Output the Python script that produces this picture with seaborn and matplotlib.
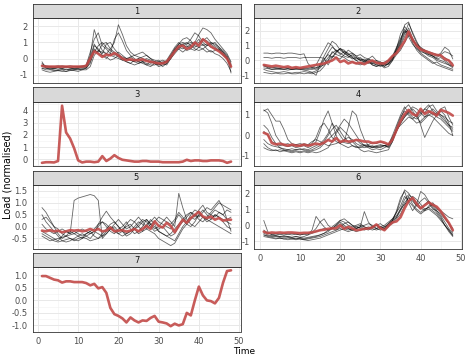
import pandas as pd
import seaborn as sns
import matplotlib.pyplot as plt

# half-hourly periods
time = list(range(1, 49))

# ---- cluster 1 ----
c1_centre = [-0.45,-0.5,-0.5,-0.5,-0.5,-0.5,-0.5,-0.5,-0.5,-0.5,-0.5,-0.45,0.0,0.45,0.3,0.1,0.25,0.2,0.34,0.2,0.0,-0.1,-0.05,-0.1,-0.1,-0.05,-0.15,-0.2,-0.25,-0.3,-0.3,-0.2,0.1,0.45,0.75,0.8,0.6,0.7,1.0,0.8,1.2,1.0,0.75,0.6,0.45,0.25,0.0,-0.5]
c1_a = [-0.3,-0.5,-0.55,-0.6,-0.55,-0.6,-0.5,-0.55,-0.6,-0.55,-0.5,-0.45,0.2,1.8,1.0,0.5,0.3,0.2,0.1,0.0,-0.1,0.0,-0.1,-0.2,0.0,0.1,0.2,0.0,-0.1,-0.2,-0.3,-0.2,0.2,0.6,0.8,0.9,0.7,0.9,1.0,1.5,1.9,1.8,1.6,1.2,0.9,0.6,0.3,-0.2]
c1_b = [-0.6,-0.7,-0.7,-0.75,-0.7,-0.7,-0.8,-0.75,-0.7,-0.7,-0.65,-0.6,-0.3,0.5,0.4,0.9,1.0,0.6,1.0,2.1,1.5,0.8,0.4,0.2,0.1,0.0,-0.1,-0.2,-0.3,-0.4,-0.3,-0.2,0.0,0.5,0.6,0.4,0.6,0.8,0.6,0.5,0.6,0.4,0.5,0.3,0.2,0.0,-0.3,-0.8]
c1_c = [-0.4,-0.45,-0.5,-0.5,-0.45,-0.5,-0.5,-0.45,-0.5,-0.5,-0.5,-0.4,0.4,1.2,1.6,0.8,0.6,0.3,0.2,0.4,0.2,0.0,-0.1,-0.2,-0.3,-0.2,-0.1,-0.3,-0.2,-0.4,-0.3,-0.1,0.3,0.7,1.0,0.7,0.5,0.6,0.9,1.2,0.8,0.9,0.7,0.6,0.5,0.2,0.0,-0.4]
c1_d = [-0.7,-0.8,-0.85,-0.8,-0.75,-0.8,-0.8,-0.7,-0.75,-0.8,-0.7,-0.7,-0.5,0.2,0.5,0.3,0.9,1.0,0.6,0.3,0.0,-0.1,0.1,0.2,0.3,0.4,0.2,0.0,-0.2,-0.1,-0.3,-0.4,0.0,0.4,0.7,0.9,1.0,0.8,0.7,0.9,1.1,1.3,1.0,0.8,0.6,0.4,0.1,-0.9]
c1_e = [-0.2,-0.6,-0.65,-0.6,-0.65,-0.6,-0.7,-0.65,-0.6,-0.6,-0.55,-0.5,-0.1,0.8,0.6,0.2,0.0,0.3,1.2,1.6,1.1,0.5,0.2,0.0,-0.2,-0.3,-0.4,-0.2,-0.3,-0.5,-0.4,-0.3,0.1,0.5,0.9,1.2,1.3,1.1,0.8,0.7,0.6,0.8,1.0,0.9,0.7,0.5,0.2,-0.3]
c1_f = [-0.5,-0.55,-0.6,-0.6,-0.55,-0.6,-0.55,-0.6,-0.65,-0.6,-0.6,-0.55,0.0,0.6,0.3,0.2,0.1,-0.1,0.0,0.2,0.0,-0.2,-0.3,-0.1,0.0,-0.2,-0.3,-0.4,-0.4,-0.3,-0.5,-0.3,0.0,0.3,0.6,0.8,0.9,1.2,1.6,1.4,1.0,0.8,0.9,1.0,0.7,0.4,0.1,-0.6]
c1_g = [-0.6,-0.6,-0.65,-0.7,-0.75,-0.7,-0.65,-0.7,-0.7,-0.65,-0.7,-0.6,-0.2,0.4,0.8,1.0,0.7,0.5,0.3,0.1,-0.1,-0.2,-0.3,-0.4,-0.3,-0.2,-0.4,-0.5,-0.3,-0.2,-0.1,-0.2,0.2,0.5,0.7,0.6,0.8,0.6,0.5,0.7,0.9,0.6,0.4,0.5,0.6,0.3,0.0,-0.5]
c1_h = [-0.45,-0.5,-0.5,-0.55,-0.5,-0.45,-0.5,-0.55,-0.5,-0.5,-0.45,-0.5,0.1,0.9,0.5,0.4,0.3,0.6,0.4,0.2,0.1,0.0,0.1,-0.1,-0.2,-0.1,0.0,-0.1,-0.2,-0.3,-0.2,-0.2,0.1,0.6,0.9,1.0,0.9,1.0,0.9,1.0,1.2,1.1,0.9,0.7,0.5,0.3,0.0,-0.4]

# ---- cluster 2 ----
c2_centre = [-0.3,-0.35,-0.4,-0.35,-0.4,-0.45,-0.4,-0.5,-0.45,-0.5,-0.45,-0.4,-0.35,-0.3,-0.25,-0.2,-0.1,0.0,0.2,-0.1,0.0,-0.2,-0.1,-0.2,-0.15,-0.25,-0.1,0.0,-0.15,-0.2,-0.2,0.0,0.3,0.5,0.9,1.3,1.95,1.4,1.0,0.75,0.65,0.55,0.45,0.37,0.35,0.1,0.0,-0.33]
c2_a = [0.5,0.5,0.45,0.5,0.5,0.45,0.5,0.5,0.45,0.4,0.45,-0.2,-0.5,-0.3,0.2,0.7,1.2,1.0,0.6,0.8,0.5,0.3,0.1,0.2,0.0,-0.1,0.1,0.0,-0.2,-0.1,-0.3,0.0,0.2,0.6,1.2,2.4,2.6,1.8,1.2,0.8,0.6,0.5,0.3,0.2,0.4,0.6,0.5,0.3]
c2_b = [-0.3,-0.5,-0.6,-0.6,-0.55,-0.6,-0.65,-0.6,-0.6,-0.6,-0.65,-0.7,-0.8,-1.0,-0.3,0.3,0.8,1.3,1.1,0.7,0.5,0.3,0.2,0.0,-0.2,-0.1,0.0,-0.3,-0.4,-0.3,-0.5,-0.4,0.0,0.8,1.8,2.3,1.9,1.2,0.7,0.4,0.2,0.0,-0.2,-0.1,-0.3,-0.4,-0.5,-0.6]
c2_c = [0.2,0.2,0.15,0.2,0.2,0.15,0.2,0.2,0.2,0.15,0.2,0.2,0.2,0.2,0.2,0.15,-0.3,0.2,0.5,0.8,0.6,0.4,0.5,0.3,0.4,0.2,0.1,0.3,0.0,-0.1,-0.2,-0.1,0.3,0.9,1.5,2.0,1.6,1.1,0.8,0.6,0.5,0.4,0.3,0.1,0.2,0.0,-0.2,-0.4]
c2_d = [-0.6,-0.7,-0.75,-0.8,-0.8,-0.75,-0.8,-0.85,-0.8,-0.8,-0.75,-0.8,-0.8,-0.7,-0.5,-0.2,0.2,0.5,0.7,0.4,0.6,0.5,0.2,0.0,0.1,-0.1,-0.2,-0.1,-0.3,-0.2,-0.4,-0.2,0.1,0.5,1.0,1.6,2.2,1.5,0.9,0.5,0.3,0.1,-0.1,-0.3,-0.4,-0.5,-0.6,-0.7]
c2_e = [-0.3,-0.4,-0.45,-0.5,-0.5,-0.45,-0.5,-0.5,-0.5,-0.55,-0.5,-0.5,-0.45,-0.5,-0.4,-0.3,0.0,0.3,0.2,0.1,0.4,0.7,0.5,0.3,0.1,0.0,-0.1,-0.2,-0.1,-0.3,-0.2,-0.3,0.0,0.4,0.7,1.2,1.7,1.5,1.0,0.7,0.5,0.3,0.2,0.0,-0.1,-0.2,-0.3,-0.5]
c2_f = [-0.8,-0.85,-0.9,-0.85,-0.9,-0.9,-0.85,-0.9,-0.9,-0.85,-0.9,-0.85,-0.9,-0.8,-0.7,-0.4,0.0,0.6,0.4,0.3,0.2,0.0,-0.1,-0.2,-0.3,-0.2,-0.1,-0.3,-0.4,-0.3,-0.4,-0.2,0.1,0.6,1.1,1.8,2.5,1.9,1.3,0.8,0.6,0.4,0.3,0.1,0.0,-0.1,-0.3,-0.4]
c2_g = [-0.5,-0.55,-0.6,-0.55,-0.6,-0.6,-0.55,-0.6,-0.55,-0.6,-0.6,-0.55,-0.6,-0.5,-0.3,0.1,0.4,0.2,0.6,0.8,0.7,0.4,0.3,0.1,0.2,0.0,0.1,-0.1,0.0,-0.2,-0.1,0.0,0.3,0.7,1.3,1.9,2.0,1.3,1.1,0.9,0.7,0.6,0.5,0.4,0.3,0.2,0.0,-0.2]
c2_h = [-0.4,-0.45,-0.5,-0.5,-0.55,-0.5,-0.55,-0.6,-0.55,-0.5,-0.55,-0.6,-0.55,-0.6,-0.4,0.0,0.5,0.9,0.7,0.5,0.3,0.2,0.4,0.2,0.0,0.1,-0.1,-0.2,-0.3,-0.4,-0.3,-0.2,0.2,0.8,1.4,2.1,1.8,1.4,1.0,0.8,0.7,0.5,0.4,0.3,0.5,0.9,0.7,0.1]

# ---- cluster 3 (single member) ----
c3_centre = [-0.3,-0.25,-0.25,-0.27,-0.15,4.4,2.2,1.7,0.9,-0.1,-0.27,-0.2,-0.2,-0.25,-0.2,0.25,-0.15,0.05,0.33,0.1,-0.05,-0.1,-0.15,-0.2,-0.2,-0.15,-0.15,-0.2,-0.2,-0.2,-0.25,-0.25,-0.25,-0.25,-0.25,-0.2,-0.05,-0.15,-0.1,-0.1,-0.15,-0.15,-0.1,-0.1,-0.1,-0.15,-0.3,-0.2]

# ---- cluster 4 ----
c4_centre = [0.13,0.05,-0.37,-0.44,-0.4,-0.45,-0.5,-0.45,-0.5,-0.5,-0.45,-0.5,-0.45,-0.4,-0.44,-0.35,-0.22,-0.3,-0.13,-0.32,-0.25,-0.3,-0.28,-0.22,-0.25,-0.3,-0.3,-0.37,-0.35,-0.3,-0.35,-0.44,-0.2,0.27,0.7,1.04,1.25,1.04,0.97,1.3,1.05,1.18,1.1,0.97,1.25,1.18,1.1,0.97]
c4_a = [1.25,1.1,0.6,0.0,-0.3,-0.5,-0.55,-0.5,-0.6,-0.55,-0.5,-0.6,-0.5,-0.3,0.2,0.8,1.2,0.6,0.0,-0.4,-0.5,-0.6,-0.5,-0.55,-0.6,-0.5,-0.55,-0.5,-0.6,-0.55,-0.5,-0.6,-0.3,0.4,0.9,1.2,1.0,0.8,0.6,0.7,0.9,1.1,1.3,1.1,0.9,0.7,0.5,0.3]
c4_b = [0.5,0.3,-0.1,-0.4,-0.6,-0.65,-0.7,-0.65,-0.7,-0.7,-0.65,-0.7,-0.6,-0.5,-0.4,-0.2,0.1,0.6,0.3,0.0,-0.3,0.4,1.2,1.0,0.3,-0.2,-0.5,-0.6,-0.55,-0.6,-0.5,-0.55,-0.2,0.2,0.6,0.9,1.1,1.3,1.1,0.5,-0.1,0.3,0.7,1.0,1.2,1.0,0.6,0.0]
c4_c = [-0.2,-0.4,-0.5,-0.55,-0.6,-0.7,-0.75,-0.8,-0.75,-0.8,-0.75,-0.8,-0.75,-0.7,-0.6,-0.4,-0.2,0.0,0.2,0.5,0.8,0.6,0.3,0.0,-0.3,-0.5,-0.6,-0.7,-0.65,-0.7,-0.6,-0.5,-0.1,0.3,0.5,0.7,0.9,0.8,1.0,1.2,1.1,1.4,1.5,1.2,1.0,0.8,0.5,0.4]
c4_d = [1.2,1.3,1.0,0.7,0.7,0.3,-0.2,-0.4,-0.45,-0.5,-0.4,-0.45,-0.3,-0.2,-0.3,-0.4,-0.5,-0.45,-0.4,-0.3,-0.35,-0.4,-0.3,-0.2,-0.4,-0.5,-0.45,-0.35,-0.4,-0.3,-0.4,-0.45,0.0,0.5,1.0,1.4,1.1,0.9,0.8,1.0,1.3,1.5,1.2,1.0,1.3,1.4,0.9,0.5]
c4_e = [-0.4,-0.6,-0.7,-0.75,-0.7,-0.75,-0.8,-0.85,-0.8,-0.85,-0.8,-0.85,-0.8,-0.85,-0.8,-0.7,-0.6,-0.3,0.1,0.4,0.2,0.0,-0.3,-0.5,-0.7,-0.8,-0.75,-0.8,-0.85,-0.8,-0.75,-0.7,-0.3,0.2,0.6,0.9,1.2,1.4,1.3,1.1,0.9,1.0,0.9,0.7,0.5,0.3,0.1,0.0]
c4_f = [0.2,0.0,-0.3,-0.4,-0.5,-0.45,-0.4,-0.5,-0.45,-0.4,-0.45,-0.5,-0.4,-0.1,0.4,0.6,0.3,-0.1,-0.3,-0.4,-0.2,-0.1,-0.2,-0.4,-0.5,-0.45,-0.5,-0.55,-0.5,-0.45,-0.5,-0.45,-0.1,0.3,0.7,1.0,1.2,1.1,0.9,1.1,1.3,1.2,1.0,1.1,1.0,0.9,0.7,0.6]
c4_g = [-0.6,-0.7,-0.75,-0.7,-0.8,-0.75,-0.7,-0.75,-0.7,-0.65,-0.7,-0.75,-0.7,-0.6,-0.5,-0.3,0.0,0.3,0.5,0.2,-0.1,-0.3,-0.5,-0.6,-0.55,-0.6,-0.55,-0.6,-0.55,-0.5,-0.5,-0.45,-0.2,0.3,0.8,1.3,1.5,1.2,0.9,0.6,0.8,1.0,1.1,0.9,0.8,0.6,0.4,0.2]

# ---- cluster 5 ----
c5_centre = [-0.17,-0.2,-0.15,-0.2,-0.17,-0.24,-0.2,-0.15,-0.17,-0.15,-0.2,-0.17,-0.1,-0.17,-0.1,-0.2,-0.17,-0.04,-0.2,-0.17,-0.15,-0.21,-0.17,-0.1,-0.2,-0.1,0.03,-0.1,0.22,0.03,-0.04,0.16,0.03,-0.24,0.03,0.29,0.16,0.36,0.49,0.62,0.42,0.36,0.42,0.29,0.36,0.25,0.29,0.29]
c5_a = [0.8,0.6,0.3,0.0,-0.3,-0.5,-0.4,-0.2,-0.3,-0.4,-0.5,-0.3,-0.2,-0.1,0.1,0.2,0.0,-0.2,-0.3,-0.1,0.0,0.2,-0.1,-0.3,-0.2,0.0,0.3,0.1,-0.1,0.0,0.2,0.4,0.2,0.0,1.4,0.8,0.3,0.1,0.0,0.2,0.4,0.3,0.5,0.7,0.6,0.5,0.7,0.6]
c5_b = [-0.2,-0.3,-0.4,-0.5,-0.6,-0.4,-0.2,-0.3,1.1,1.2,1.25,1.3,1.35,1.3,1.1,-0.5,-0.3,-0.1,0.0,-0.2,-0.1,0.0,0.1,-0.1,-0.3,-0.2,-0.1,0.1,0.0,-0.2,-0.3,-0.4,-0.3,-0.1,0.1,0.3,0.5,0.6,0.4,0.7,0.9,0.6,0.5,0.4,0.6,0.5,0.3,0.4]
c5_c = [0.5,0.2,0.0,-0.2,-0.4,-0.6,-0.65,-0.6,-0.5,-0.4,-0.3,-0.4,-0.5,-0.3,0.1,0.4,0.65,0.4,0.2,0.0,-0.2,-0.3,-0.2,0.0,0.2,0.1,-0.1,-0.2,-0.3,-0.5,-0.6,-0.7,-0.8,-0.7,-0.4,-0.1,0.1,0.3,0.5,0.4,0.6,0.8,0.7,0.9,1.1,0.8,0.3,-0.2]
c5_d = [-0.3,-0.4,-0.5,-0.6,-0.65,-0.6,-0.55,-0.5,-0.6,-0.5,-0.45,-0.5,-0.6,-0.55,-0.5,-0.4,-0.2,0.0,-0.1,-0.3,-0.2,0.1,0.3,0.2,0.0,-0.2,0.1,0.2,0.4,0.2,0.1,0.0,-0.1,0.2,0.5,0.3,0.1,0.0,0.2,0.5,0.4,0.3,0.2,0.1,0.0,-0.1,-0.2,-0.3]
c5_e = [0.1,-0.1,-0.2,-0.3,-0.2,-0.1,-0.2,-0.3,-0.2,-0.3,-0.4,-0.3,-0.2,-0.4,-0.5,-0.3,-0.1,0.1,0.2,0.0,-0.2,-0.4,-0.3,-0.1,0.1,0.3,0.2,0.0,-0.2,-0.1,0.0,-0.2,-0.4,-0.3,0.0,0.2,0.4,0.6,0.5,0.3,0.2,0.4,0.6,0.8,1.0,0.9,0.8,0.7]
c5_f = [-0.4,-0.5,-0.6,-0.55,-0.5,-0.45,-0.4,-0.5,-0.55,-0.6,-0.5,-0.4,-0.3,-0.2,-0.3,-0.4,-0.3,-0.1,0.1,0.3,0.1,-0.1,0.0,0.2,0.4,0.2,0.0,0.3,0.1,-0.2,-0.3,-0.4,-0.5,-0.6,-0.3,0.0,0.2,0.4,0.3,0.5,0.7,0.5,0.3,0.5,0.4,0.2,0.0,-0.1]
c5_g = [0.3,0.4,0.2,0.0,-0.1,-0.3,-0.4,-0.35,-0.3,-0.2,-0.1,-0.2,-0.3,-0.2,0.0,0.2,0.1,-0.1,-0.2,-0.3,-0.4,-0.3,-0.2,-0.1,0.0,0.2,0.3,0.1,0.2,0.4,0.3,0.2,0.1,0.3,0.6,0.4,0.2,0.5,0.7,0.6,0.4,0.2,0.3,0.5,0.4,0.3,0.2,0.1]

# ---- cluster 6 ----
c6_centre = [-0.4,-0.49,-0.45,-0.47,-0.45,-0.47,-0.45,-0.45,-0.47,-0.49,-0.47,-0.47,-0.44,-0.38,-0.31,-0.28,-0.22,-0.2,-0.18,0.0,-0.22,-0.1,-0.2,-0.31,-0.28,-0.22,-0.2,-0.13,0.05,-0.18,-0.31,-0.04,0.18,0.24,0.5,1.05,1.5,1.7,1.33,1.05,1.24,1.42,1.27,1.15,0.87,0.5,0.15,-0.31]
c6_a = [0.3,-0.4,-0.6,-0.65,-0.7,-0.65,-0.7,-0.75,-0.7,-0.75,-0.7,-0.6,-0.3,0.55,0.2,-0.1,-0.3,-0.2,-0.1,0.1,-0.1,-0.2,-0.3,-0.2,-0.1,0.85,0.2,-0.1,0.0,-0.2,-0.3,-0.1,0.3,0.8,1.5,2.2,2.0,1.6,1.2,1.0,1.3,1.5,1.2,0.9,0.6,0.2,-0.2,-0.5]
c6_b = [-0.5,-0.6,-0.65,-0.7,-0.75,-0.7,-0.75,-0.8,-0.85,-0.8,-0.85,-0.8,-0.75,-0.7,-0.6,-0.5,-0.3,-0.1,0.1,0.3,0.2,0.0,-0.1,0.0,0.1,-0.1,-0.2,-0.1,0.0,0.1,-0.1,0.0,0.2,0.5,1.0,1.6,1.9,1.7,1.4,1.1,0.9,1.2,1.4,1.1,0.8,0.5,0.1,-0.4]
c6_c = [-0.6,-0.7,-0.75,-0.8,-0.8,-0.85,-0.8,-0.85,-0.9,-0.85,-0.9,-0.85,-0.8,-0.75,-0.7,-0.6,-0.5,-0.4,-0.3,-0.2,-0.3,-0.4,-0.3,-0.2,-0.1,-0.2,-0.3,-0.1,0.0,-0.1,-0.2,0.0,0.3,0.9,1.7,2.1,1.4,0.9,1.3,2.1,1.9,1.5,1.1,0.8,0.5,0.0,-0.4,-0.7]
c6_d = [-0.3,-0.5,-0.55,-0.6,-0.55,-0.6,-0.55,-0.5,-0.55,-0.6,-0.55,-0.5,-0.45,-0.2,0.2,0.4,0.0,-0.2,-0.3,-0.1,0.1,0.2,0.0,-0.2,-0.1,0.0,0.1,0.0,-0.2,-0.1,0.0,0.2,0.4,0.6,1.0,1.3,1.5,1.8,1.6,1.3,1.0,1.1,1.3,1.0,0.9,0.7,0.5,0.4]
c6_e = [-0.6,-0.65,-0.7,-0.65,-0.7,-0.75,-0.7,-0.75,-0.7,-0.75,-0.8,-0.75,-0.7,-0.65,-0.6,-0.5,-0.4,-0.2,0.0,0.2,0.0,-0.2,-0.3,-0.4,-0.3,-0.2,-0.1,-0.2,-0.3,-0.2,-0.1,0.1,0.4,0.8,1.2,1.8,1.5,1.2,0.9,0.7,0.9,1.0,0.8,0.6,0.3,0.0,-0.3,-0.6]
c6_f = [-0.4,-0.5,-0.55,-0.5,-0.55,-0.5,-0.55,-0.6,-0.55,-0.6,-0.55,-0.6,-0.5,-0.4,-0.3,-0.2,-0.3,-0.2,0.0,0.3,0.4,0.2,0.0,-0.1,0.0,-0.1,-0.2,-0.3,-0.2,-0.1,-0.2,0.1,0.3,0.5,0.9,1.4,1.7,1.5,1.2,1.5,1.7,1.4,1.0,0.9,0.7,0.4,0.1,-0.2]
c6_g = [-0.7,-0.75,-0.8,-0.85,-0.8,-0.85,-0.9,-0.85,-0.8,-0.85,-0.9,-0.95,-0.9,-0.85,-0.8,-0.7,-0.6,-0.5,-0.4,-0.3,-0.2,-0.3,-0.2,-0.1,-0.2,-0.3,-0.2,-0.1,-0.2,-0.3,-0.2,0.0,0.1,0.4,0.7,1.2,1.8,1.3,1.0,0.8,1.0,1.1,0.9,0.7,0.4,0.0,-0.3,-0.65]

# ---- cluster 7 (single member) ----
c7_centre = [0.97,0.97,0.9,0.83,0.8,0.71,0.76,0.76,0.73,0.73,0.73,0.69,0.6,0.66,0.48,0.53,0.3,-0.3,-0.55,-0.62,-0.72,-0.88,-0.68,-0.8,-0.88,-0.8,-0.82,-0.7,-0.62,-0.85,-0.88,-0.92,-1.03,-0.93,-1.0,-0.95,-0.5,-0.6,0.0,0.55,0.2,0.0,-0.03,-0.12,0.1,0.7,1.17,1.2]

members = {
    1: [c1_a, c1_b, c1_c, c1_d, c1_e, c1_f, c1_g, c1_h],
    2: [c2_a, c2_b, c2_c, c2_d, c2_e, c2_f, c2_g, c2_h],
    3: [],
    4: [c4_a, c4_b, c4_c, c4_d, c4_e, c4_f, c4_g],
    5: [c5_a, c5_b, c5_c, c5_d, c5_e, c5_f, c5_g],
    6: [c6_a, c6_b, c6_c, c6_d, c6_e, c6_f, c6_g],
    7: [],
}
centres = {1: c1_centre, 2: c2_centre, 3: c3_centre, 4: c4_centre,
           5: c5_centre, 6: c6_centre, 7: c7_centre}

ylims = {1: (-1.1, 2.32), 2: (-1.33, 2.85), 3: (-0.57, 4.73), 4: (-1.04, 1.65),
         5: (-0.96, 1.55), 6: (-1.13, 2.33), 7: (-1.15, 1.32)}
yticks = {1: [-1, 0, 1, 2], 2: [-1, 0, 1, 2], 3: [0, 1, 2, 3, 4], 4: [-1, 0, 1],
          5: [-0.5, 0.0, 0.5, 1.0, 1.5], 6: [-1, 0, 1, 2], 7: [-1.0, -0.5, 0.0, 0.5, 1.0]}

# long tables
rows = []
for k, lines in members.items():
    for i, vals in enumerate(lines):
        assert len(vals) == 48, (k, i, len(vals))
        for t, v in zip(time, vals):
            rows.append((k, i, t, v))
df = pd.DataFrame(rows, columns=['cluster', 'member', 'time', 'load'])
crow = []
for k, vals in centres.items():
    assert len(vals) == 48, (k, len(vals))
    for t, v in zip(time, vals):
        crow.append((k, t, v))
cdf = pd.DataFrame(crow, columns=['cluster', 'time', 'load'])

sns.set_style('white')
plt.rcParams['axes.unicode_minus'] = False
plt.rcParams['font.family'] = ['DejaVu Sans']

W, H = 467, 357
fig = plt.figure(figsize=(W / 100, H / 100), dpi=100)
col_x = [32.5, 254.3]
row_top = [18.3, 101.7, 185.0, 267.3]
pw, ph, sh = 208.0, 64.4, 14.4

for k in range(1, 8):
    r, c = (k - 1) // 2, (k - 1) % 2
    x0, top = col_x[c], row_top[r]
    ax = fig.add_axes([x0 / W, 1 - (top + ph) / H, pw / W, ph / H])
    sub = df[df.cluster == k]
    if len(sub):
        sns.lineplot(data=sub, x='time', y='load', units='member', estimator=None,
                     color='black', alpha=0.6, lw=0.6, ax=ax, legend=False)
    sns.lineplot(data=cdf[cdf.cluster == k], x='time', y='load', color='#c24a48',
                 alpha=0.9, lw=1.9, ax=ax, legend=False)
    ax.set_xlim(-1.35, 50.35)
    ax.set_ylim(*ylims[k])
    ax.set_xticks([0, 10, 20, 30, 40, 50])
    ax.set_xticks([5, 15, 25, 35, 45], minor=True)
    yt = yticks[k]
    ax.set_yticks(yt)
    step = yt[1] - yt[0]
    ax.set_yticks([v + step / 2 for v in [yt[0] - step] + yt], minor=True)
    if k == 5 or k == 7:
        ax.set_yticklabels(['%.1f' % v for v in yt])
    else:
        ax.set_yticklabels(['%d' % v for v in yt])
    ax.grid(which='major', color='#e8e8e8', lw=0.7)
    ax.grid(which='minor', color='#f1f1f1', lw=0.4)
    ax.set_axisbelow(True)
    ax.tick_params(which='major', length=2, width=0.5, color='#333333',
                   labelsize=6, labelcolor='#4d4d4d', pad=1.5)
    ax.tick_params(which='minor', length=0)
    if k not in (6, 7):
        ax.tick_params(axis='x', length=0, labelbottom=False)
    for s in ax.spines.values():
        s.set_color('#333333')
        s.set_linewidth(0.6)
    ax.set_xlabel('')
    ax.set_ylabel('')

    # facet strip
    st = fig.add_axes([x0 / W, 1 - top / H, pw / W, sh / H])
    st.set_facecolor('#d9d9d9')
    st.set_xticks([])
    st.set_yticks([])
    for s in st.spines.values():
        s.set_color('#333333')
        s.set_linewidth(0.6)
    st.text(0.5, 0.5, str(k), ha='center', va='center', fontsize=6,
            color='#1a1a1a', transform=st.transAxes)

fig.text(8 / W, 1 - 175 / H, 'Load (normalised)', rotation=90, ha='center',
         va='center', fontsize=7, color='black')
fig.text(244 / W, 1 - 351.5 / H, 'Time', ha='center', va='center', fontsize=6.5,
         color='black')

fig.savefig('out.png', dpi=100, facecolor='white')
